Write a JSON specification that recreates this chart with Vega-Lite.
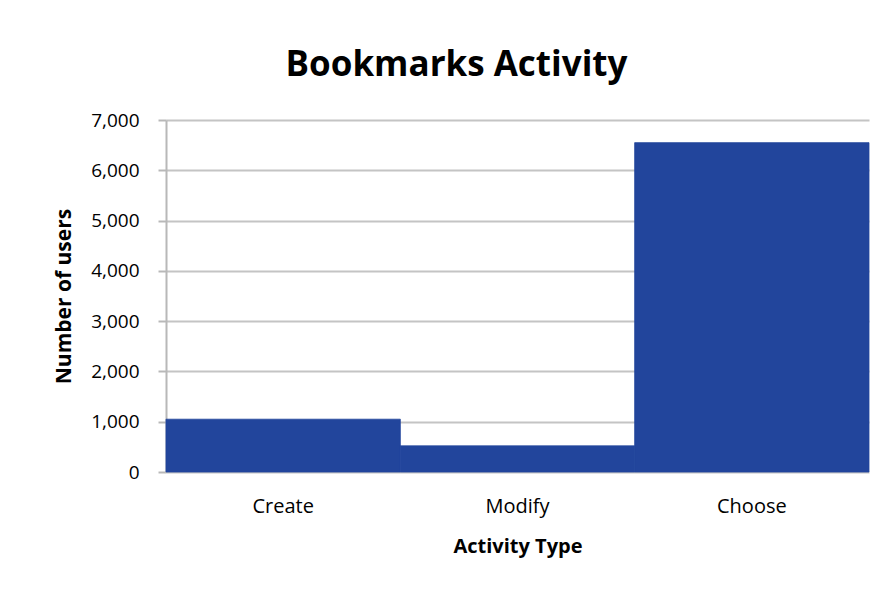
{
  "$schema": "https://vega.github.io/schema/vega-lite/v6.json",
  "autosize": {"type": "none"},
  "width": 703,
  "height": 352,
  "padding": {"left": 166, "top": 120, "right": 22, "bottom": 117},
  "background": "white",
  "title": {
    "text": "Bookmarks Activity",
    "font": "Open Sans",
    "fontSize": 35,
    "fontWeight": "bold",
    "color": "#000000",
    "anchor": "middle",
    "dx": -61,
    "offset": 28
  },
  "data": {
    "values": [
      {"activity": "Create", "users": 1050},
      {"activity": "Modify", "users": 520},
      {"activity": "Choose", "users": 6550}
    ]
  },
  "mark": {"type": "bar", "color": "#22459c", "stroke": "#22459c", "strokeWidth": 0.8},
  "encoding": {
    "x": {
      "field": "activity",
      "type": "nominal",
      "sort": null,
      "scale": {"paddingInner": 0, "paddingOuter": 0},
      "axis": {
        "title": "Activity Type",
        "titleFont": "Open Sans",
        "titleFontSize": 20,
        "titleFontWeight": "bold",
        "titleColor": "#000000",
        "titlePadding": 20,
        "labelFont": "Open Sans",
        "labelFontSize": 20,
        "labelColor": "#000000",
        "labelAngle": 0,
        "labelPadding": 24,
        "ticks": false,
        "domain": false
      }
    },
    "y": {
      "field": "users",
      "type": "quantitative",
      "scale": {"domain": [0, 7000], "nice": false},
      "axis": {
        "title": "Number of users",
        "titleFont": "Open Sans",
        "titleFontSize": 21,
        "titleFontWeight": "bold",
        "titleColor": "#000000",
        "titlePadding": 16,
        "values": [0, 1000, 2000, 3000, 4000, 5000, 6000, 7000],
        "format": ",d",
        "labelFont": "Open Sans",
        "labelFontSize": 19,
        "labelColor": "#000000",
        "labelPadding": 19,
        "tickSize": 8,
        "tickColor": "#b8b8b8",
        "tickWidth": 2,
        "domainColor": "#b8b8b8",
        "domainWidth": 2,
        "grid": true,
        "gridColor": "#c4c4c4",
        "gridWidth": 2
      }
    }
  },
  "config": {"view": {"stroke": null}}
}
